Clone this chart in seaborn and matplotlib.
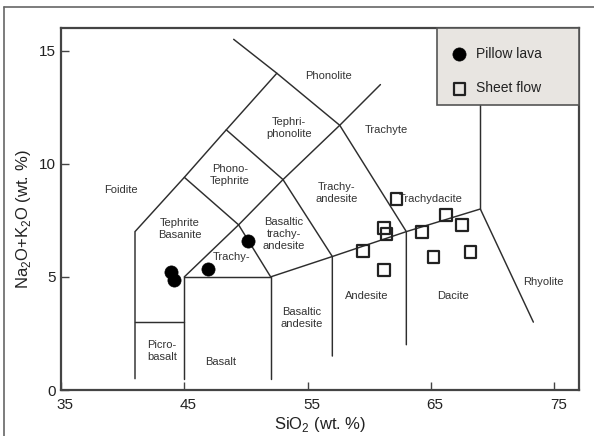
import matplotlib
matplotlib.use("Agg")
import matplotlib.pyplot as plt
from matplotlib.lines import Line2D
from matplotlib.patches import Rectangle
from matplotlib.transforms import ScaledTranslation
import seaborn as sns
import pandas as pd

# Sample analyses: SiO2 and total alkalis (wt. %)
pillow_sio2 = [43.9, 44.15, 46.9, 50.2]
pillow_alk = [5.2, 4.86, 5.33, 6.6]

sheet_sio2 = [62.2, 61.2, 61.4, 59.5, 61.2, 64.3, 66.2, 65.2, 67.5, 68.2]
sheet_alk = [8.45, 7.17, 6.88, 6.16, 5.3, 6.97, 7.73, 5.89, 7.29, 6.11]

# TAS field boundaries as polylines of (SiO2, Na2O+K2O)
boundaries = [
    [(41, 0.5), (41, 7), (45, 9.4), (48.4, 11.5), (52.5, 14)],
    [(41, 3), (45, 3)],
    [(45, 0.5), (45, 5), (52, 5), (52, 0.5)],
    [(45, 9.4), (49.4, 7.3), (52, 5)],
    [(48.4, 11.5), (53, 9.3), (57, 5.9), (57, 1.5)],
    [(45, 5), (49.4, 7.3), (53, 9.3), (57.6, 11.7), (60.9, 13.5)],
    [(49, 15.5), (52.5, 14), (57.6, 11.7), (63, 7), (63, 2)],
    [(52, 5), (57, 5.9), (63, 7), (69, 8), (73.3, 3)],
    [(69, 8), (69, 16)],
]

# Field names and where they are written
field_names = ["Foidite", "Tephrite\nBasanite", "Phono-\nTephrite", "Tephri-\nphonolite",
               "Phonolite", "Trachyte", "Trachy-\nandesite", "Basaltic\ntrachy-\nandesite",
               "Trachy-", "Trachydacite", "Andesite", "Dacite", "Rhyolite",
               "Basaltic\nandesite", "Picro-\nbasalt", "Basalt"]
field_x = [39.9, 44.6, 48.7, 53.5, 56.7, 61.4, 57.35, 53.05, 48.8, 65.0, 59.8, 66.8, 74.1,
           54.5, 43.2, 47.95]
field_y = [8.84, 7.1, 9.5, 11.6, 13.9, 11.5, 8.7, 6.9, 5.89, 8.44, 4.15, 4.17, 4.76,
           3.2, 1.72, 1.22]

x_ticks = [35, 45, 55, 65, 75]
y_ticks = [0, 5, 10, 15]

sns.set_theme(style="white")
plt.rcParams["font.family"] = ["Liberation Sans", "DejaVu Sans"]
plt.rcParams["mathtext.fontset"] = "custom"
plt.rcParams["mathtext.rm"] = "Liberation Sans"

W, H = 594, 436
fig = plt.figure(figsize=(W / 100, H / 100), dpi=100)
fig.patch.set_facecolor("white")
ax = fig.add_axes([61 / W, 1 - 390 / H, (579 - 61) / W, (390 - 28) / H])

line_col = "#2e2e2e"
for seg in boundaries:
    xs, ys = zip(*seg)
    ax.plot(xs, ys, color=line_col, lw=1.05, zorder=1, solid_joinstyle="miter")

for name, x, y in zip(field_names, field_x, field_y):
    ax.text(x, y, name, ha="center", va="center", fontsize=8, color="#333333",
            linespacing=1.25, zorder=2)

pillow = pd.DataFrame({"SiO2": pillow_sio2, "alk": pillow_alk})
sheet = pd.DataFrame({"SiO2": sheet_sio2, "alk": sheet_alk})

sns.scatterplot(data=pillow, x="SiO2", y="alk", ax=ax, marker="o", s=90,
                color="black", edgecolor="black", linewidth=0.5, zorder=3,
                label="Pillow lava")
sns.scatterplot(data=sheet, x="SiO2", y="alk", ax=ax, marker="s", s=72,
                facecolor="none", edgecolor="#222222", linewidth=1.6, zorder=3,
                label="Sheet flow")

ax.set_xlim(35, 77)
ax.set_ylim(0, 16)
ax.set_xticks(x_ticks)
ax.set_yticks(y_ticks)
ax.tick_params(direction="in", length=6, width=1.0, color="#444444",
               labelsize=11, labelcolor="#222222", bottom=True, left=True)
ax.tick_params(axis="y", pad=4)
ax.tick_params(axis="x", pad=6)
for lab in ax.get_xticklabels():
    lab.set_transform(lab.get_transform() + ScaledTranslation(4 / 100, 0, fig.dpi_scale_trans))
ax.set_xlabel(r"SiO$_\mathregular{2}$ (wt. %)", fontsize=12, color="#222222", labelpad=2)
ax.set_ylabel(r"Na$_\mathregular{2}$O+K$_\mathregular{2}$O (wt. %)", fontsize=12,
              color="#222222")
ax.yaxis.set_label_coords(-(61 - 33) / (579 - 61), (390 - 219) / (390 - 28))
for sp in ax.spines.values():
    sp.set_color("#444444")
    sp.set_linewidth(1.6)

# Legend panel in the upper right corner
x0 = (437 - 61) / (579 - 61)
y0 = (390 - 105) / (390 - 28)
ax.add_patch(Rectangle((x0, y0), 1 - x0, 1 - y0, transform=ax.transAxes,
                       facecolor="#e8e5e1", edgecolor="#555555", lw=1.2, zorder=4,
                       clip_on=False))
leg = ax.legend(loc="upper left", bbox_to_anchor=(x0 + 0.03, 1 - 19 / 362), frameon=False,
                fontsize=10, borderpad=0, borderaxespad=0, handlelength=1.0,
                handletextpad=0.7, labelspacing=1.47, markerscale=1.0)
leg.set_zorder(5)
for t in leg.get_texts():
    t.set_color("#222222")

# Outer frame
fig.add_artist(Line2D([4 / W, 1], [1 - 7 / H, 1 - 7 / H], transform=fig.transFigure,
                      color="#666666", lw=1.2))
fig.add_artist(Line2D([4 / W, 4 / W], [0, 1 - 7 / H], transform=fig.transFigure,
                      color="#666666", lw=1.2))

fig.savefig("out.png", dpi=100)
